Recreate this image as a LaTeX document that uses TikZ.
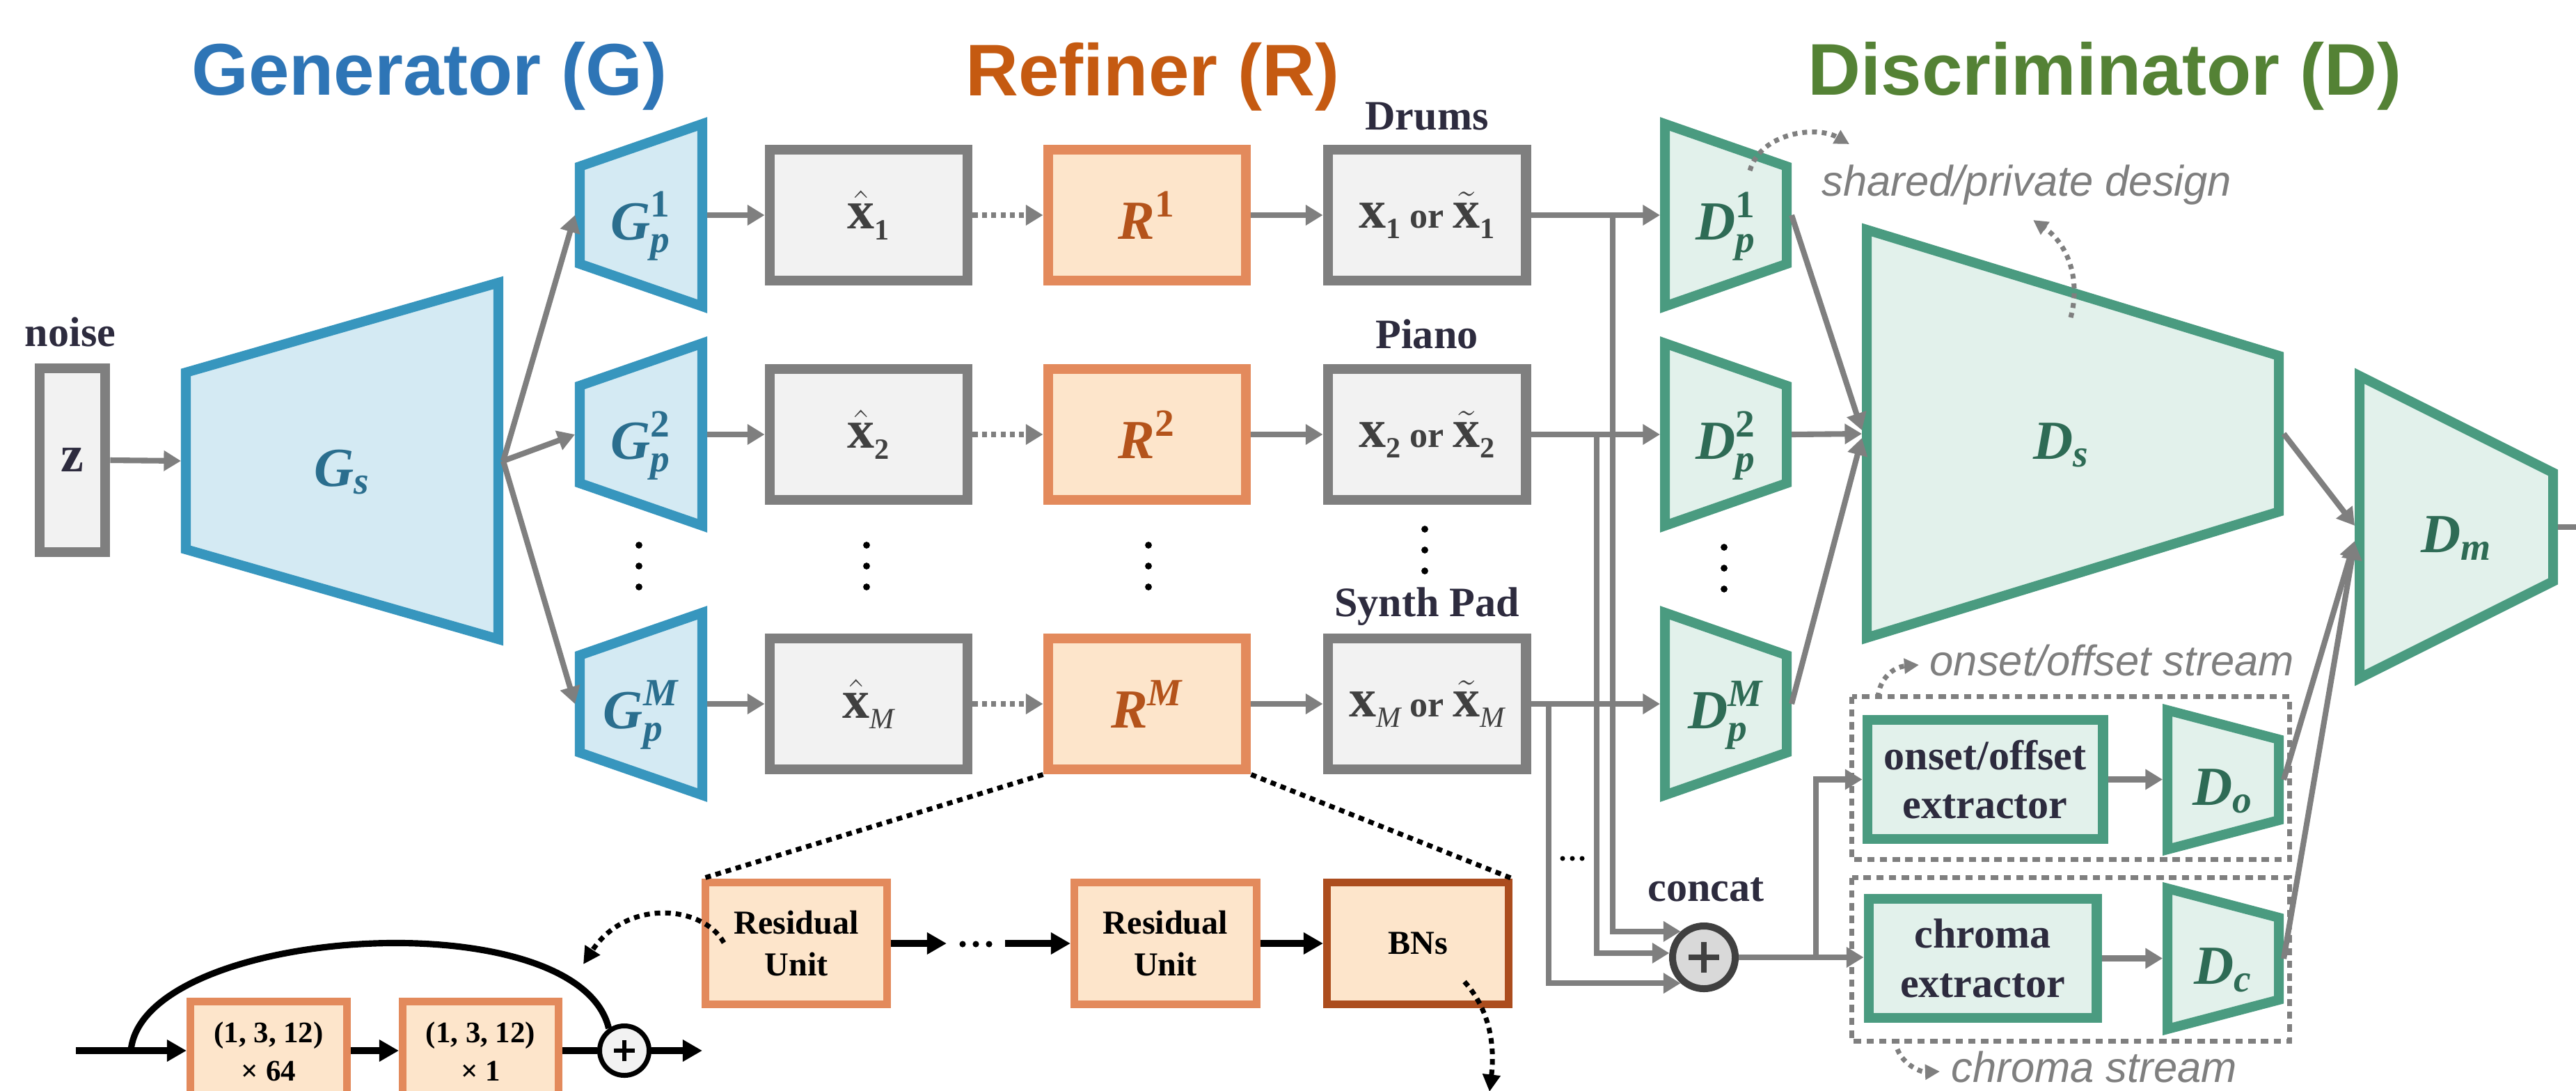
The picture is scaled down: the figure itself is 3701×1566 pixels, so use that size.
\documentclass[tikz,border=0pt]{standalone}
\usepackage{fontspec}
\usepackage{amsmath}
\setmainfont{Liberation Serif}
\newfontfamily\sansf{Liberation Sans}
\usetikzlibrary{arrows.meta}

\definecolor{gstroke}{RGB}{127,127,127}
\definecolor{gfill}{RGB}{242,242,242}
\definecolor{bstroke}{RGB}{55,150,190}
\definecolor{bfill}{RGB}{212,234,243}
\definecolor{blabel}{RGB}{42,110,142}
\definecolor{tstroke}{RGB}{74,155,128}
\definecolor{tfill}{RGB}{226,241,235}
\definecolor{tlabel}{RGB}{46,107,85}
\definecolor{ostroke}{RGB}{227,138,92}
\definecolor{ofill}{RGB}{253,229,203}
\definecolor{olabel}{RGB}{180,83,27}
\definecolor{bnstroke}{RGB}{172,77,30}
\definecolor{titG}{RGB}{46,117,182}
\definecolor{titR}{RGB}{197,90,17}
\definecolor{titD}{RGB}{84,130,53}
\definecolor{darktxt}{RGB}{45,43,62}
\definecolor{xlab}{RGB}{64,64,64}
\definecolor{ccfill}{RGB}{217,217,217}
\definecolor{ccstroke}{RGB}{64,64,64}

\newcommand\fsT{\fontsize{29.9pt}{34pt}\selectfont}
\newcommand\fsL{\fontsize{17.1pt}{20pt}\selectfont}
\newcommand\fsR{\fontsize{13.7pt}{17.1pt}\selectfont}
\newcommand\fsM{\fontsize{22.5pt}{26pt}\selectfont}
\newcommand\fsX{\fontsize{22.2pt}{26pt}\selectfont}
\newcommand\fsI{\fontsize{17.5pt}{20pt}\selectfont}
\newcommand\fsZ{\fontsize{21pt}{24pt}\selectfont}
\newcommand\fsC{\fontsize{12.2pt}{14pt}\selectfont}

% bold x and its subscript, as printed in the boxes
\newcommand\bx{\mbox{\fsX\bfseries x}}
\newcommand\xsub[1]{\raisebox{-4.3pt}{\fontsize{12pt}{14pt}\selectfont\bfseries #1}}
\newcommand\orword{{\fontsize{14.8pt}{16pt}\selectfont\bfseries\ or\ }}

\tikzset{
  gline/.style={draw=gstroke, line width=2.3pt},
  garrow/.style={gline, -{Triangle[length=7pt,width=8pt]}},
  gdotarrow/.style={garrow, dash pattern=on 2pt off 1.8pt},
  blackarrow/.style={draw=black, line width=3pt, -{Triangle[length=8pt,width=8.5pt]}},
  bline/.style={draw=black, line width=3pt},
  bdotted/.style={draw=black, line width=2pt, dash pattern=on 2.3pt off 2pt},
  gcurve/.style={draw=gstroke, line width=2pt, dash pattern=on 2pt off 2pt, -{Triangle[length=6pt,width=6pt]}},
  bcurve/.style={draw=black, line width=2pt, dash pattern=on 2.3pt off 2pt, -{Triangle[length=7pt,width=7pt]}},
  gdash/.style={draw=gstroke, line width=2pt, dash pattern=on 3pt off 2.2pt},
  graybox/.style={draw=gstroke, fill=gfill, line width=4.2pt, minimum width=2.84cm, minimum height=1.88cm, inner sep=0pt},
  refbox/.style={draw=ostroke, fill=ofill, line width=4.2pt, minimum width=2.84cm, minimum height=1.88cm, inner sep=0pt},
  resbox/.style={draw=ostroke, fill=ofill, line width=3.1pt, minimum width=2.6cm, minimum height=1.75cm, inner sep=0pt, align=center, font=\fsR\bfseries},
  extbox/.style={draw=tstroke, fill=tfill, line width=4.2pt, minimum height=1.71cm, inner sep=0pt, align=center, font=\fsL\bfseries, text=darktxt},
  bshape/.style={draw=bstroke, fill=bfill, line width=4pt},
  tshape/.style={draw=tstroke, fill=tfill, line width=4pt},
  glab/.style={font=\fsM\bfseries\itshape, text=blabel, inner sep=0pt},
  dlab/.style={font=\fsM\bfseries\itshape, text=tlabel, inner sep=0pt},
  darklab/.style={font=\fsL\bfseries, text=darktxt, anchor=base, inner sep=0pt},
  itlab/.style={font=\sansf\itshape\fsI, text=gstroke, anchor=base west, inner sep=0pt},
  title/.style={font=\sansf\bfseries\fsT, anchor=base, inner sep=0pt},
  reslab/.style={font=\fsC\bfseries, anchor=base, inner sep=0pt},
}

% name, style, x-left, x-right, y-center, half-height left, half-height right, label, label style
\newcommand\trapz[9]{%
  \draw[#2] (#3,#5-#6) -- (#4,#5-#7) -- (#4,#5+#7) -- (#3,#5+#6) -- cycle;
  \coordinate (#1-w) at (#3-7,#5);
  \coordinate (#1-e) at (#4+7,#5);
  \node[#9] (#1) at ({(#3+#4)/2},#5+16) {#8};}

\begin{document}
\begin{tikzpicture}[x=0.01cm,y=-0.01cm]
\useasboundingbox (0,0) rectangle (3701,1566);
\clip (0,0) rectangle (3701,1566);

% titles
\node[title, text=titG] (titleG) at (617,136) {Generator (G)};
\node[title, text=titR] (titleR) at (1656,137) {Refiner (R)};
\node[title, text=titD] (titleD) at (3024,136) {Discriminator (D)};

% noise input
\node[graybox, minimum width=0.94cm, minimum height=2.64cm, font=\fsZ\bfseries, text=darktxt] (z) at (104,661) {z};
\node[darklab] (noise) at (101,497) {noise};

% shared generator
\trapz{Gs}{bshape}{267}{716}{662}{127}{256}{$\text{G}_{\text{s}}$}{glab}
\draw[garrow] (z.east) -- (Gs-w);

% track labels
\node[darklab] (drums) at (2050,186) {Drums};
\node[darklab] (piano) at (2050,500) {Piano};
\node[darklab] (synth) at (2050,885) {Synth Pad};

% rows
\foreach \r/\y/\supA/\subB in {1/309/{\upshape 1}/{1}, 2/624/{\upshape 2}/{2}, M/1011/{M}/{\mdseries\itshape M}}{
  \trapz{Gp\r}{bshape}{833}{1009}{\y}{70}{131}{$\text{G}^{\text{\supA}}_{\text{p}}$}{glab}
  \node[graybox, font=\fsX\bfseries, text=xlab] (xh\r) at (1248,\y) {$\hat{\bx}$\xsub{\subB}};
  \node[refbox, font=\fsM\bfseries\itshape, text=olabel] (R\r) at (1648,\y) {$\text{R}^{\text{\supA}}$};
  \node[graybox, font=\fsX\bfseries, text=xlab] (xb\r) at (2050,\y) {\bx\xsub{\subB}\orword$\tilde{\bx}$\xsub{\subB}};
  \trapz{Dp\r}{tshape}{2392}{2567}{\y}{131}{70}{$\text{D}^{\text{\supA}}_{\text{p}}$}{dlab}
  \draw[garrow] (Gs-e) -- (Gp\r-w);
  \draw[garrow] (Gp\r-e) -- (xh\r.west);
  \draw[gdotarrow] (xh\r.east) -- (R\r.west);
  \draw[garrow] (R\r.east) -- (xb\r.west);
  \draw[garrow] (xb\r.east) -- (Dp\r-w);
}

% vertical dots
\foreach \xx/\yy in {918/783, 1245/783, 1650/783, 2047/760, 2477/786}{
  \foreach \k in {0,1,2}{\fill (\xx,\yy+30*\k) circle (1.4pt);}
}

% shared discriminator and merger
\trapz{Ds}{tshape}{2682}{3274}{623}{293}{112}{$\text{D}_{\text{s}}$}{dlab, xshift=-0.16cm}
\trapz{Dm}{tshape}{3390}{3668}{757}{217}{78}{$\text{D}_{\text{m}}$}{dlab}
\draw[garrow] (Dp1-e) -- ([yshift=0.05cm]Ds-w);
\draw[garrow] (Dp2-e) -- (Ds-w);
\draw[garrow] (DpM-e) -- ([yshift=-0.06cm]Ds-w);

% concat
\node[circle, draw=ccstroke, fill=ccfill, line width=2.85pt, minimum size=0.9cm, inner sep=0pt] (cc) at (2448,1375) {};
\draw[ccstroke, line width=2.2pt] ([xshift=-0.22cm]cc.center) -- ([xshift=0.22cm]cc.center);
\draw[ccstroke, line width=2.2pt] ([yshift=-0.22cm]cc.center) -- ([yshift=0.22cm]cc.center);
\node[darklab] (concat) at (2451,1294) {concat};
\coordinate (t1) at (2317,309);
\coordinate (t2) at (2294,624);
\coordinate (tM) at (2225,1011);
\draw[garrow] (t1) |- (cc.132);
\draw[garrow] (t2) |- (cc.173);
\draw[garrow] (tM) |- (cc.228);
\foreach \xx in {2245,2259,2273}{\fill (\xx,1233) circle (1pt);}

% streams
\node[extbox, minimum width=3.38cm] (onset) at (2852,1119.5) {onset/offset\\extractor};
\node[extbox, minimum width=3.27cm] (chroma) at (2848.5,1376.5) {chroma\\extractor};
\trapz{Do}{tshape}{3114}{3274}{1120}{100}{58}{$\text{D}_{\text{o}}$}{dlab}
\trapz{Dc}{tshape}{3114}{3274}{1377}{101}{59}{$\text{D}_{\text{c}}$}{dlab}
\coordinate (j) at (2609,1376.5);
\draw[garrow] (cc.east) -- (cc.east -| chroma.west);
\draw[garrow] (j) |- (onset.west);
\draw[garrow] (onset.east) -- (onset.east -| Do-w);
\draw[garrow] (chroma.east) -- (chroma.east -| Dc-w);
\draw[gdash] (2660.5,1000.5) rectangle (3289.5,1234.5);
\draw[gdash] (2660.5,1260.5) rectangle (3289.5,1495.5);

\draw[garrow] (Ds-e) -- ([yshift=0.02cm]Dm-w);
\draw[garrow] (Do-e) -- ([yshift=-0.2cm]Dm-w);
\draw[garrow] (Dc-e) -- ([yshift=-0.22cm]Dm-w);
\coordinate (dout) at (3701,757);
\draw[gline] (Dm-e) -- (dout);

% gray annotations
\node[itlab] (sharedlab) at (2617,281) {shared/private design};
\node[itlab] (onsetlab) at (2772,970) {onset/offset stream};
\node[itlab] (chromalab) at (2803,1554) {chroma stream};
\coordinate (ga1) at (2514,245); \coordinate (gb1) at (2657,207);
\coordinate (ga2) at (2975,456); \coordinate (gb2) at (2921,316);
\coordinate (ga3) at (2698,1002); \coordinate (gb3) at (2757,955);
\coordinate (ga4) at (2726,1507); \coordinate (gb4) at (2787,1539);
\draw[gcurve] (ga1) .. controls (2530,190) and (2610,180) .. (gb1);
\draw[gcurve] (ga2) .. controls (2990,400) and (2970,350) .. (gb2);
\draw[gcurve] (ga3) .. controls (2700,975) and (2720,958) .. (gb3);
\draw[gcurve] (ga4) .. controls (2735,1530) and (2760,1540) .. (gb4);

% refiner expansion
\node[resbox] (ru1) at (1144,1355) {Residual\\Unit};
\node[resbox, minimum width=2.62cm] (ru2) at (1674.5,1355) {Residual\\Unit};
\node[resbox, draw=bnstroke, minimum width=2.61cm] (bns) at (2037,1355) {BNs};
\draw[bdotted] (RM.south west) -- (ru1.north west);
\draw[bdotted] (RM.south east) -- (bns.north east);
\coordinate (a1) at (1360,1355);
\coordinate (a2) at (1444,1355);
\draw[blackarrow] (ru1.east) -- (a1);
\foreach \xx in {1383,1402,1421}{\fill (\xx,1356) circle (1.3pt);}
\draw[blackarrow] (a2) -- (ru2.west);
\draw[blackarrow] (ru2.east) -- (bns.west);
\coordinate (ba1) at (2104,1410); \coordinate (bb1) at (2140,1568);
\draw[bcurve] (ba1) .. controls (2140,1450) and (2148,1500) .. (bb1);

% residual unit detail
\node[resbox, minimum width=2.25cm, minimum height=2.03cm] (c1) at (386,1540) {};
\node[resbox, minimum width=2.24cm, minimum height=2.03cm] (c2) at (690.5,1540) {};
\node[reslab] (c1a) at (386,1497) {(1, 3, 12)};
\node[reslab] (c1b) at (386,1552) {× 64};
\node[reslab] (c2a) at (690.5,1497) {(1, 3, 12)};
\node[reslab] (c2b) at (690.5,1552) {× 1};
\node[circle, draw=black, fill=gfill, line width=2pt, minimum size=0.71cm, inner sep=0pt] (rc) at (897,1509) {};
\draw[black, line width=1.5pt] ([xshift=-0.15cm]rc.center) -- ([xshift=0.15cm]rc.center);
\draw[black, line width=1.5pt] ([yshift=-0.15cm]rc.center) -- ([yshift=0.15cm]rc.center);
\coordinate (in0) at (109,1509);
\coordinate (out0) at (1009,1509);
\coordinate (sk) at (188,1509);
\draw[blackarrow] (in0) -- (in0 -| c1.west);
\draw[blackarrow] (c1.east |- rc) -- (c2.west |- rc);
\draw[bline] (c2.east |- rc) -- (rc.west);
\draw[blackarrow] (rc.east) -- (out0);
\draw[black, line width=2.6pt] (sk) .. controls (205,1330) and (830,1290) .. (rc.125);
\coordinate (ra1) at (1040,1354); \coordinate (rb1) at (838,1385);
\draw[bcurve] (ra1) .. controls (1010,1300) and (900,1290) .. (rb1);
\end{tikzpicture}
\end{document}
